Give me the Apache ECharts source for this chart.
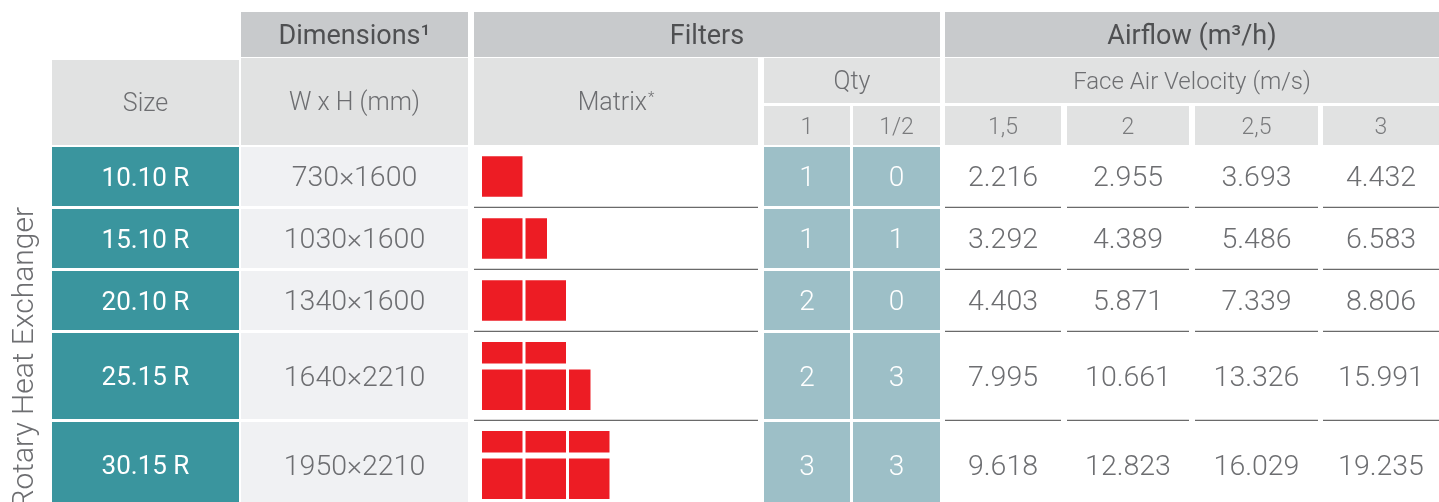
<!DOCTYPE html>
<html lang="en">
<head>
  <meta charset="UTF-8">
  <title>Rotary Heat Exchanger</title>
  <style>
    html, body { margin: 0; padding: 0; background: #fff; }
    #main { width: 1439px; height: 502px; }
  </style>
</head>
<body>
<div id="main"></div>
<script src="https://cdn.jsdelivr.net/npm/echarts@6/dist/echarts.min.js"></script>
<script>
  // ---- table data ----
  var sizes = ['10.10 R', '15.10 R', '20.10 R', '25.15 R', '30.15 R'];
  var dims = ['730×1600', '1030×1600', '1340×1600', '1640×2210', '1950×2210'];
  var qtyFull = [1, 1, 2, 2, 3];
  var qtyHalf = [0, 1, 0, 3, 3];
  var velocities = ['1,5', '2', '2,5', '3'];
  var airflow15 = [2216, 3292, 4403, 7995, 9618];
  var airflow20 = [2955, 4389, 5871, 10661, 12823];
  var airflow25 = [3693, 5486, 7339, 13326, 16029];
  var airflow30 = [4432, 6583, 8806, 15991, 19235];
  // filter matrix per size, rows top to bottom: F full, V half width, H half height
  var matrix = [
    [['F']],
    [['F', 'V']],
    [['F', 'F']],
    [['H', 'H'], ['F', 'F', 'V']],
    [['H', 'H', 'H'], ['F', 'F', 'F']]
  ];

  // ---- layout (pixel space of the hidden axes) ----
  var W = 1439, H = 502;
  var col = {
    size: [52, 239], dims: [241, 468], matrix: [474, 758],
    q1: [764, 850], q2: [853, 940],
    a: [[945, 1061], [1067, 1189], [1195, 1318], [1323, 1439]]
  };
  var rowY = [[147, 206], [209, 268], [271, 330], [333, 419], [422, 508]];
  var head1 = [12, 57], head2 = [58, 103], head3 = [106, 145], headAll = [58, 145];

  var FAM = 'Roboto, "Liberation Sans", sans-serif';
  var TEXT_DY = 2.5; // Roboto sits a little high when centred
  var fHead = { size: 27, weight: 400, color: '#4f5052' };
  var fSub = { size: 25, weight: 300, color: '#6d6e71' };
  var fFace = { size: 24, weight: 300, color: '#6d6e71' };
  var fSub3 = { size: 23, weight: 300, color: '#7a7b7d' };
  var fSize = { size: 26, weight: 400, color: '#ffffff' };
  var fBody = { size: 28.5, weight: 300, color: '#6d6e71' };
  var fQty = { size: 28, weight: 300, color: '#ffffff' };

  var cDark = '#c8cacc', cLight = '#e1e2e2', cTeal = '#3a959e', cDim = '#f0f1f3',
      cQty = '#9dbfc7', cRed = '#ed1c24', cLine = '#6a6a6a';

  function fmt(v) {
    return String(v).replace(/\B(?=(\d{3})+(?!\d))/g, '.');
  }

  var cells = [];
  function cell(x, y, fill, text, font, line) {
    cells.push({ value: [x[0], y[0], x[1], y[1]], fill: fill, text: text, font: font, line: line });
  }

  // header
  cell(col.dims, head1, cDark, 'Dimensions¹', fHead);
  cell([col.matrix[0], col.q2[1]], head1, cDark, 'Filters', fHead);
  cell([col.a[0][0], col.a[3][1]], head1, cDark, 'Airflow (m³/h)', fHead);
  cell(col.size, [60, 145], cLight, 'Size', fSub);
  cell(col.dims, headAll, cLight, 'W x H (mm)', fSub);
  cell(col.matrix, headAll, cLight, '{a|Matrix}{s|*}', fSub);
  cell([col.q1[0], col.q2[1]], head2, cLight, 'Qty', fSub);
  cell(col.q1, head3, cLight, '1', fSub3);
  cell(col.q2, head3, cLight, '1/2', fSub3);
  cell([col.a[0][0], col.a[3][1]], head2, cLight, 'Face Air Velocity (m/s)', fFace);
  velocities.forEach(function (v, i) {
    cell(col.a[i], head3, cLight, v, fSub3);
  });

  // body
  var airflow = [airflow15, airflow20, airflow25, airflow30];
  sizes.forEach(function (s, r) {
    var y = rowY[r];
    var last = r === sizes.length - 1;
    cell(col.size, y, cTeal, s, fSize);
    cell(col.dims, y, cDim, dims[r], fBody);
    cell(col.matrix, y, null, null, null, !last);
    cell(col.q1, y, cQty, String(qtyFull[r]), fQty);
    cell(col.q2, y, cQty, String(qtyHalf[r]), fQty);
    airflow.forEach(function (arr, i) {
      cell(col.a[i], y, null, fmt(arr[r]), fBody, !last);
    });
  });

  // filter blocks
  var full = 40.5, half = 21.5, gap = 3, rowGap = 6, x0 = 482;
  var blocks = [];
  matrix.forEach(function (rows, r) {
    var hts = rows.map(function (row) {
      return row.every(function (k) { return k === 'H'; }) ? half : full;
    });
    var total = hts.reduce(function (a, b) { return a + b; }, 0) + rowGap * (rows.length - 1);
    var y = (rowY[r][0] + rowY[r][1]) / 2 - total / 2;
    rows.forEach(function (row, j) {
      var x = x0;
      row.forEach(function (k) {
        var w = k === 'V' ? half : full;
        var h = k === 'H' ? half : full;
        blocks.push([x, y, x + w, y + h]);
        x += w + gap;
      });
      y += hts[j] + rowGap;
    });
  });

  function renderCell(params, api) {
    var c = cells[params.dataIndex];
    var p0 = api.coord([api.value(0), api.value(1)]);
    var p1 = api.coord([api.value(2), api.value(3)]);
    var kids = [];
    if (c.fill) {
      kids.push({ type: 'rect', shape: { x: p0[0], y: p0[1], width: p1[0] - p0[0], height: p1[1] - p0[1] },
        style: { fill: c.fill } });
    }
    if (c.line) {
      kids.push({ type: 'line', shape: { x1: p0[0], y1: p1[1] + 1.3, x2: p1[0], y2: p1[1] + 1.3 },
        style: { stroke: cLine, lineWidth: 1.3 } });
    }
    if (c.text) {
      kids.push({ type: 'text', x: (p0[0] + p1[0]) / 2, y: (p0[1] + p1[1]) / 2 + TEXT_DY,
        style: { text: c.text, fill: c.font.color, fontSize: c.font.size, fontWeight: c.font.weight,
          fontFamily: FAM, align: 'center', verticalAlign: 'middle',
          rich: {
            a: { fontSize: c.font.size, fontWeight: c.font.weight, fontFamily: FAM, fill: c.font.color,
              lineHeight: 30 },
            s: { fontSize: 15, fontWeight: 300, fontFamily: FAM, fill: c.font.color,
              lineHeight: 30, verticalAlign: 'top', padding: [2, 0, 0, 1] }
          } } });
    }
    return { type: 'group', children: kids };
  }

  function renderBlock(params, api) {
    var p0 = api.coord([api.value(0), api.value(1)]);
    var p1 = api.coord([api.value(2), api.value(3)]);
    return { type: 'rect', shape: { x: p0[0], y: p0[1], width: p1[0] - p0[0], height: p1[1] - p0[1] },
      style: { fill: cRed } };
  }

  var myChart = echarts.init(document.getElementById('main'));
  myChart.setOption({
    animation: false,
    grid: { left: 0, right: 0, top: 0, bottom: 0 },
    xAxis: { type: 'value', min: 0, max: W, show: false },
    yAxis: { type: 'value', min: 0, max: H, inverse: true, show: false },
    series: [
      { type: 'custom', silent: true, renderItem: renderCell, data: cells,
        encode: { x: [0, 2], y: [1, 3] } },
      { type: 'custom', silent: true, renderItem: renderBlock, data: blocks,
        encode: { x: [0, 2], y: [1, 3] } },
      { type: 'custom', silent: true, data: [[25, 207]],
        renderItem: function (params, api) {
          var p = api.coord([api.value(0), api.value(1)]);
          return { type: 'text', x: p[0], y: p[1], rotation: Math.PI / 2,
            style: { text: 'Rotary Heat Exchanger', fill: '#6d6e71', fontSize: 30, fontWeight: 300,
              fontFamily: FAM, align: 'right', verticalAlign: 'middle' } };
        } }
    ]
  });
  window.addEventListener('resize', function () { myChart.resize(); });
</script>
</body>
</html>
